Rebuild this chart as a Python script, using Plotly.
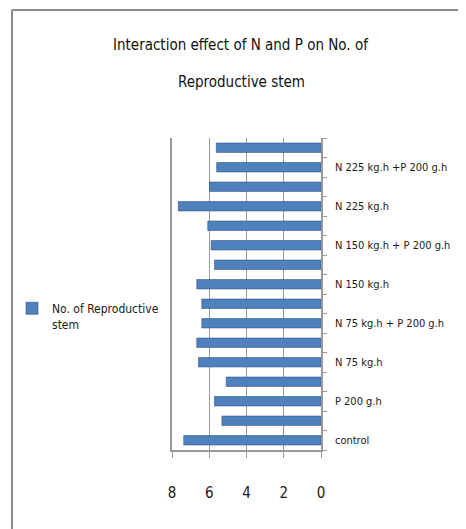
import plotly.graph_objects as go

# Data (bottom to top)
categories = [
    "control", "P 100 g.h", "P 200 g.h", "P 300 g.h",
    "N 75 kg.h", "N 75 kg.h + P 100 g.h", "N 75 kg.h + P 200 g.h", "N 75 kg.h + P 300 g.h",
    "N 150 kg.h", "N 150 kg.h + P 100 g.h", "N 150 kg.h + P 200 g.h", "N 150 kg.h + P 300 g.h",
    "N 225 kg.h", "N 225 kg.h + P 100 g.h", "N 225 kg.h +P 200 g.h", "N 225 kg.h + P 300 g.h",
]
values = [7.37, 5.32, 5.72, 5.09,
          6.58, 6.67, 6.40, 6.40,
          6.67, 5.72, 5.90, 6.08,
          7.66, 5.99, 5.60, 5.62]
shown_labels = ["control", "P 200 g.h", "N 75 kg.h", "N 75 kg.h + P 200 g.h",
                "N 150 kg.h", "N 150 kg.h + P 200 g.h", "N 225 kg.h", "N 225 kg.h +P 200 g.h"]
x_ticks = [8, 6, 4, 2, 0]
series_name = "No. of Reproductive<br>stem"
title_lines = ["Interaction effect of N and P on No. of", "Reproductive stem"]

FONT = "DejaVu Sans Condensed, Liberation Sans, sans-serif"
OFF = 8  # page body margin
W, H = 466 - OFF, 529 - OFF
L, R, T, B = 172 - OFF, 145, 138 - OFF, 79
PW, PH = W - L - R, H - T - B

def px(sx):
    return (sx - OFF - L) / PW

def py(sy):
    return (H - B - (sy - OFF)) / PH

fig = go.Figure()
fig.add_trace(go.Bar(
    x=values, y=categories, orientation="h", name=series_name,
    marker=dict(color="#4F81BD", line=dict(color="#2f5689", width=0.6)),
    showlegend=True,
))

fig.update_layout(
    width=W, height=H,
    margin=dict(l=L, r=R, t=T, b=B, autoexpand=False),
    paper_bgcolor="white", plot_bgcolor="white",
    bargap=0.52,
    font=dict(family=FONT, color="#1a1a1a", size=12),
    showlegend=True,
    legend=dict(x=px(12), xanchor="left", y=py(294), yanchor="top",
                font=dict(size=12, family=FONT), valign="top",
                bgcolor="rgba(0,0,0,0)", itemwidth=30, tracegroupgap=0),
    xaxis=dict(range=[8, 0], tickvals=x_ticks, showgrid=True, gridcolor="#9a9a9a",
               gridwidth=1, zeroline=False, showline=True, linecolor="#9a9a9a",
               linewidth=1.5, ticks="outside", ticklen=6, tickcolor="#9a9a9a",
               automargin=False,
               ticklabelstandoff=22, tickfont=dict(size=15, family=FONT)),
    yaxis=dict(side="right", categoryorder="array", categoryarray=categories,
               tickmode="array", tickvals=categories,
               ticktext=[c if c in shown_labels else "" for c in categories],
               tickson="boundaries", ticks="outside", ticklen=4, tickcolor="#9a9a9a",
               showline=True, mirror=True, linecolor="#9a9a9a", linewidth=1.5,
               showgrid=False, ticklabelstandoff=10, automargin=False,
               tickfont=dict(size=11, family=FONT)),
)

for i, line in enumerate(title_lines):
    fig.add_annotation(text=line, xref="paper", yref="paper",
                       x=px(241), y=py(45 + 37 * i), xanchor="center", yanchor="middle",
                       showarrow=False, font=dict(size=15, family=FONT, color="#111"))

# outer chart frame (top and left edges visible)
fig.add_shape(type="line", xref="paper", yref="paper", x0=px(12), x1=px(470),
              y0=py(10), y1=py(10), line=dict(color="#8a8a8a", width=2))
fig.add_shape(type="line", xref="paper", yref="paper", x0=px(12), x1=px(12),
              y0=py(10), y1=py(535), line=dict(color="#8a8a8a", width=2))

fig.write_html("out.html")
